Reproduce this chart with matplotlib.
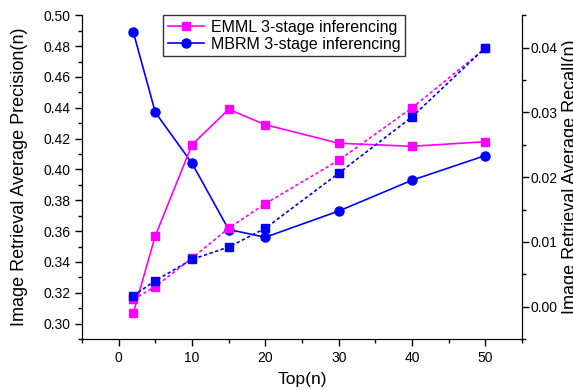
import numpy as np
import matplotlib.pyplot as plt
from matplotlib.ticker import MultipleLocator, FormatStrFormatter

plt.rcParams['font.family'] = ['Liberation Sans', 'DejaVu Sans']

# data
top_n = [2, 5, 10, 15, 20, 30, 40, 50]
emml_prec = [0.307, 0.357, 0.416, 0.439, 0.429, 0.417, 0.415, 0.418]
mbrm_prec = [0.489, 0.437, 0.404, 0.361, 0.356, 0.373, 0.393, 0.409]
emml_rec = [0.0011, 0.0031, 0.0075, 0.0121, 0.0159, 0.0226, 0.0307, 0.0399]
mbrm_rec = [0.0017, 0.0040, 0.0073, 0.0092, 0.0121, 0.0206, 0.0293, 0.0400]

pink = '#ff00ff'
blue = '#0000ff'

fig = plt.figure(figsize=(5.73, 3.90), dpi=100)
ax = fig.add_axes([0.1431, 0.1308, 0.7679, 0.83])
ax2 = ax.twinx()

ax.plot(top_n, mbrm_prec, '-o', color=blue, lw=1.2, ms=6.5, label='MBRM 3-stage inferencing')
ax.plot(top_n, emml_prec, '-s', color=pink, lw=1.2, ms=5.5, label='EMML 3-stage inferencing')
ax2.plot(top_n, emml_rec, 's', ls=(0, (2, 1.5)), color=pink, lw=1.2, ms=5.5)
ax2.plot(top_n, mbrm_rec, 's', ls=(0, (2, 1.5)), color=blue, lw=1.2, ms=5.5)

ax.set_xlim(-5, 55)
ax.set_ylim(0.29, 0.50)
ax2.set_ylim(-0.005, 0.045)

ax.xaxis.set_major_locator(MultipleLocator(10))
ax.xaxis.set_minor_locator(MultipleLocator(5))
ax.yaxis.set_major_locator(MultipleLocator(0.02))
ax.yaxis.set_minor_locator(MultipleLocator(0.01))
ax.yaxis.set_major_formatter(FormatStrFormatter('%.2f'))
ax2.yaxis.set_major_locator(MultipleLocator(0.01))
ax2.yaxis.set_minor_locator(MultipleLocator(0.005))
ax2.yaxis.set_major_formatter(FormatStrFormatter('%.2f'))

for a in (ax, ax2):
    a.spines['top'].set_visible(False)
    a.tick_params(which='major', direction='out', length=5, width=1, labelsize=10)
    a.tick_params(which='minor', direction='out', length=3, width=1)
ax2.tick_params(which='major', pad=1.3)

ax.set_xlabel('Top(n)', fontsize=12.5, labelpad=5)
ax.set_ylabel('Image Retrieval Average Precision(n)', fontsize=13, labelpad=11)
# the reference has this label running off the right edge
ax2.set_ylabel('Image Retrieval Average Recall(n)', fontsize=13, labelpad=3)

h, l = ax.get_legend_handles_labels()
leg = ax.legend(h[::-1], l[::-1], loc='upper left', bbox_to_anchor=(0.184, 1.0),
                borderaxespad=0, fontsize=11.5, frameon=True, fancybox=False,
                edgecolor='black', handlelength=2.3, borderpad=0.3,
                labelspacing=0.1, handletextpad=0.4)
leg.get_frame().set_linewidth(1)

fig.savefig('out.png', dpi=100)
